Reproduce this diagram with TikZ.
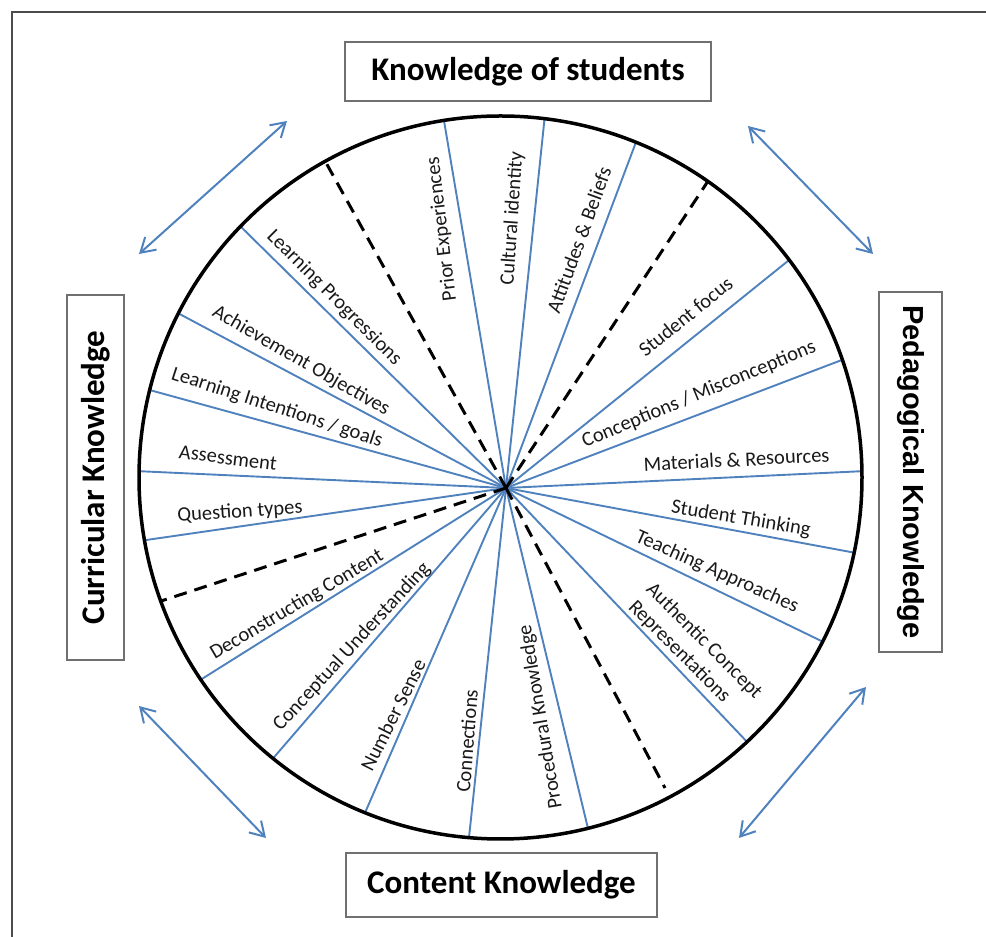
\documentclass[tikz,border=0pt]{standalone}
\usepackage{fontspec}
\setmainfont{Carlito}
\newfontfamily\arialfont{Liberation Sans}
\usetikzlibrary{arrows.meta}
\definecolor{spokeblue}{HTML}{4F81BD}
\definecolor{boxgray}{HTML}{707070}
\tikzset{
  spoke/.style={spokeblue, line width=1.9pt},
  divider/.style={black, line width=3pt, dash pattern=on 13pt off 8pt},
  lab/.style={text=black!90, font=\fontsize{20.5}{25}\selectfont, inner sep=0pt},
  head/.style={draw=boxgray, line width=1.5pt, fill=white, inner sep=0pt,
    font=\fontsize{33}{40}\selectfont\bfseries},
  link/.style={spokeblue, line width=2pt,
    {Straight Barb[length=14pt,width=17pt]}-{Straight Barb[length=14pt,width=17pt]}},
}
\begin{document}
\begin{tikzpicture}[x=1pt,y=1pt]
\useasboundingbox (0,0) rectangle (986,937);
\draw[black!70, line width=1.5pt] (986,925) -- (12,925) -- (12,0);
% the wheel
\node[circle, minimum size=723pt, inner sep=0pt, outer sep=0pt] (wheel) at (500.5,459.5) {};
\coordinate (hub) at (506,449);
\foreach \a in {99.3,83.4,68.4,37.2,19.5,1.7,-12.3,-27.1,-47.9,-76.1,
  265.1,248.2,231.1,214.9,190.5,179,166.4,153,136.5}
  \draw[spoke] (hub) -- (wheel.\a);
\foreach \a in {119.6,55.2,200.5}
  \draw[divider] (hub) -- (wheel.\a);
\coordinate (cut) at (665,149);
\draw[divider] (hub) -- (cut);
\draw[line width=3.5pt] (wheel.center) circle[radius=361.5];
% spoke labels
\foreach \x/\y/\r/\t [count=\i] in {
  442/708/97/Prior Experiences,
  512.5/718.5/86/Cultural identity,
  579/697/70/Attitudes \& Beliefs,
  685.5/620.5/39/Student focus,
  699/542.5/22.6/{Conceptions / Misconceptions},
  736.5/477.5/3/Materials \& Resources,
  741/418/-9.5/Student Thinking,
  717/365/-24/Teaching Approaches,
  541/220/99.6/Procedural Knowledge,
  467/196/85.5/Connections,
  393/222/63.4/Number Sense,
  352/290/47.3/Conceptual Understanding,
  297/332/30.6/Deconstructing Content,
  240/425/4/Question types,
  228/479/-7/Assessment,
  277/529/-18/{Learning Intentions / goals},
  301/576/-30/Achievement Objectives,
  334/639/-45/Learning Progressions}
  \node[lab, rotate=\r] (lab\i) at (\x,\y) {\t};
\node[lab, rotate=-45, align=left] (labacr) at (695,287) {Authentic Concept\\Representations};
% the four knowledge boxes
\node[head, minimum width=366pt, minimum height=59pt] (kos) at (528,865.5) {Knowledge of students};
\node[head, minimum width=311pt, minimum height=64pt] (ck) at (501.5,52) {Content Knowledge};
\node[head, rotate=90, minimum width=365pt, minimum height=57pt] (cur) at (95.5,459.5) {Curricular Knowledge};
\node[head, rotate=-90, minimum width=360pt, minimum height=63pt,
  font=\arialfont\fontsize{29}{35}\selectfont\bfseries] (ped) at (910.5,465) {Pedagogical Knowledge};
% arrows between the boxes
\coordinate (tl1) at (139,683); \coordinate (tl2) at (287,816);
\coordinate (tr1) at (748,811); \coordinate (tr2) at (873,683);
\coordinate (bl1) at (139,231); \coordinate (bl2) at (266,99);
\coordinate (br1) at (866,250); \coordinate (br2) at (739,99);
\draw[link] (tl1) -- (tl2);
\draw[link] (tr1) -- (tr2);
\draw[link] (bl1) -- (bl2);
\draw[link] (br1) -- (br2);
\end{tikzpicture}
\end{document}
